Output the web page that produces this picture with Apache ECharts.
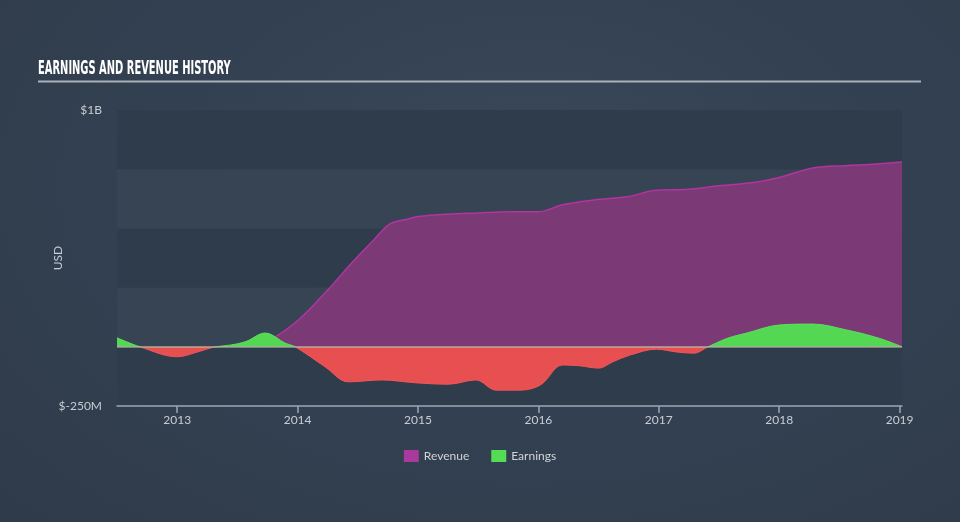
<!DOCTYPE html>
<html><head><meta charset="utf-8">
<script src="https://cdn.jsdelivr.net/npm/echarts@6/dist/echarts.min.js"></script>
<style>
html,body{margin:0;padding:0;width:960px;height:522px;overflow:hidden;
background:radial-gradient(ellipse at 55% 35%, #3a4859 0%, #344152 45%, #2f3b4a 100%);}
#c{width:960px;height:522px;}
</style></head><body><div id="c"></div>
<script>
const yearTicks = [2013, 2014, 2015, 2016, 2017, 2018, 2019];
const revenueYears = [2013.78, 2014.0, 2014.25, 2014.46, 2014.63, 2014.77, 2014.92, 2015.0, 2015.25, 2015.5, 2015.75, 2016.0, 2016.2, 2016.46, 2016.75, 2016.96, 2017.25, 2017.5, 2017.8, 2018.0, 2018.28, 2018.55, 2018.75, 2019.02];
const revenueValues = [0.03, 0.11, 0.24, 0.36, 0.45, 0.52, 0.54, 0.55, 0.56, 0.565, 0.57, 0.57, 0.60, 0.62, 0.635, 0.66, 0.665, 0.68, 0.695, 0.715, 0.755, 0.765, 0.77, 0.78];
const earningsYears = [2012.5, 2012.69, 2013.0, 2013.18, 2013.3, 2013.45, 2013.57, 2013.73, 2013.9, 2013.98, 2014.23, 2014.42, 2014.7, 2014.98, 2015.25, 2015.48, 2015.65, 2015.85, 2016.02, 2016.2, 2016.34, 2016.5, 2016.62, 2016.76, 2016.98, 2017.15, 2017.29, 2017.41, 2017.57, 2017.73, 2018.0, 2018.28, 2018.56, 2018.83, 2019.02];
const earningsValues = [0.038, 0.0, -0.042, -0.02, -0.002, 0.008, 0.022, 0.058, 0.015, 0.0, -0.085, -0.148, -0.14, -0.152, -0.158, -0.14, -0.183, -0.183, -0.16, -0.077, -0.08, -0.09, -0.063, -0.035, -0.01, -0.022, -0.027, 0.0, 0.036, 0.058, 0.092, 0.096, 0.071, 0.036, 0.0];

const yMin = -0.25, yMax = 1.0;
const revenueData = revenueYears.map((x, i) => [x, revenueValues[i]]);
const earningsData = earningsYears.map((x, i) => [x, earningsValues[i]]);

const gridTop = 110, gridBottom = 116, H = 522;
const zeroFrac = yMax / (yMax - yMin);
const signFill = (pos, neg) => new echarts.graphic.LinearGradient(0, gridTop, 0, H - gridBottom, [
  {offset: 0, color: pos}, {offset: zeroFrac, color: pos},
  {offset: zeroFrac, color: neg}, {offset: 1, color: neg}
], true);

const chart = echarts.init(document.getElementById('c'), null, {renderer: 'canvas'});
chart.setOption({
  backgroundColor: 'transparent',
  animation: false,
  graphic: [{
    type: 'text', x: 38, y: 79, scaleX: 0.58, originX: 0, originY: 0,
    style: {text: 'EARNINGS AND REVENUE HISTORY', fill: '#ffffff',
      font: "bold 19px 'DejaVu Sans Condensed', 'DejaVu Sans', sans-serif",
      textBaseline: 'alphabetic', textVerticalAlign: 'bottom'}
  }, {
    type: 'line', shape: {x1: 38, y1: 81.5, x2: 921, y2: 81.5},
    style: {stroke: '#a9b0ba', lineWidth: 2}
  }],
  legend: {
    bottom: 55, left: 'center', itemGap: 22, itemWidth: 15, itemHeight: 12,
    icon: 'rect',
    textStyle: {color: '#d0d4da', fontSize: 12, fontFamily: 'Lato'},
    data: [
      {name: 'Revenue', itemStyle: {color: '#a83a9e'}},
      {name: 'Earnings', itemStyle: {color: '#54dd54'}}
    ]
  },
  grid: {left: 117, right: 58, top: gridTop, bottom: gridBottom},
  xAxis: {
    type: 'value', min: 2012.5, max: 2019.02,
    axisLine: {show: true, onZero: false, lineStyle: {color: '#9aa6b4', width: 1.5}},
    axisTick: {show: true, customValues: yearTicks, length: 7, lineStyle: {color: '#9aa6b4', width: 1.5}},
    axisLabel: {show: true, customValues: yearTicks, color: '#c8cdd4', fontSize: 12, fontFamily: 'Lato', margin: 8,
      formatter: v => String(Math.round(v))},
    splitLine: {show: false}
  },
  yAxis: {
    type: 'value', min: yMin, max: yMax, interval: 0.25,
    name: 'USD', nameLocation: 'middle', nameGap: 53, nameRotate: 90, nameMoveOverlap: false,
    nameTextStyle: {color: '#c8cdd4', fontSize: 12, fontFamily: 'Lato'},
    axisLine: {show: false}, axisTick: {show: false},
    axisLabel: {color: '#c8cdd4', fontSize: 12, fontFamily: 'Lato', margin: 15,
      formatter: v => v >= 0.999 ? '$1B' : (v <= -0.249 ? '$-250M' : '')},
    splitLine: {show: false},
    splitArea: {show: true, areaStyle: {color: ['#2f3c4b', '#364453']}}
  },
  series: [
    {
      name: 'Revenue', type: 'line', data: revenueData, smooth: 0.35, showSymbol: false,
      lineStyle: {color: '#b0359f', width: 1.5},
      itemStyle: {color: '#a83a9e'},
      areaStyle: {color: '#7b3976', opacity: 1},
      z: 2,
      markLine: {
        silent: true, symbol: 'none', label: {show: false},
        lineStyle: {color: '#c9c3b4', width: 1.5, type: 'solid', opacity: 0.7},
        data: [{yAxis: 0}]
      }
    },
    {
      name: 'Earnings', type: 'line', data: earningsData, smooth: 0.35, showSymbol: false,
      itemStyle: {color: '#54dd54'},
      lineStyle: {width: 1, color: signFill('#58e058', '#f0555a')},
      areaStyle: {opacity: 1, color: signFill('#54d854', '#e84f50')},
      z: 3
    }
  ]
});
</script></body></html>
